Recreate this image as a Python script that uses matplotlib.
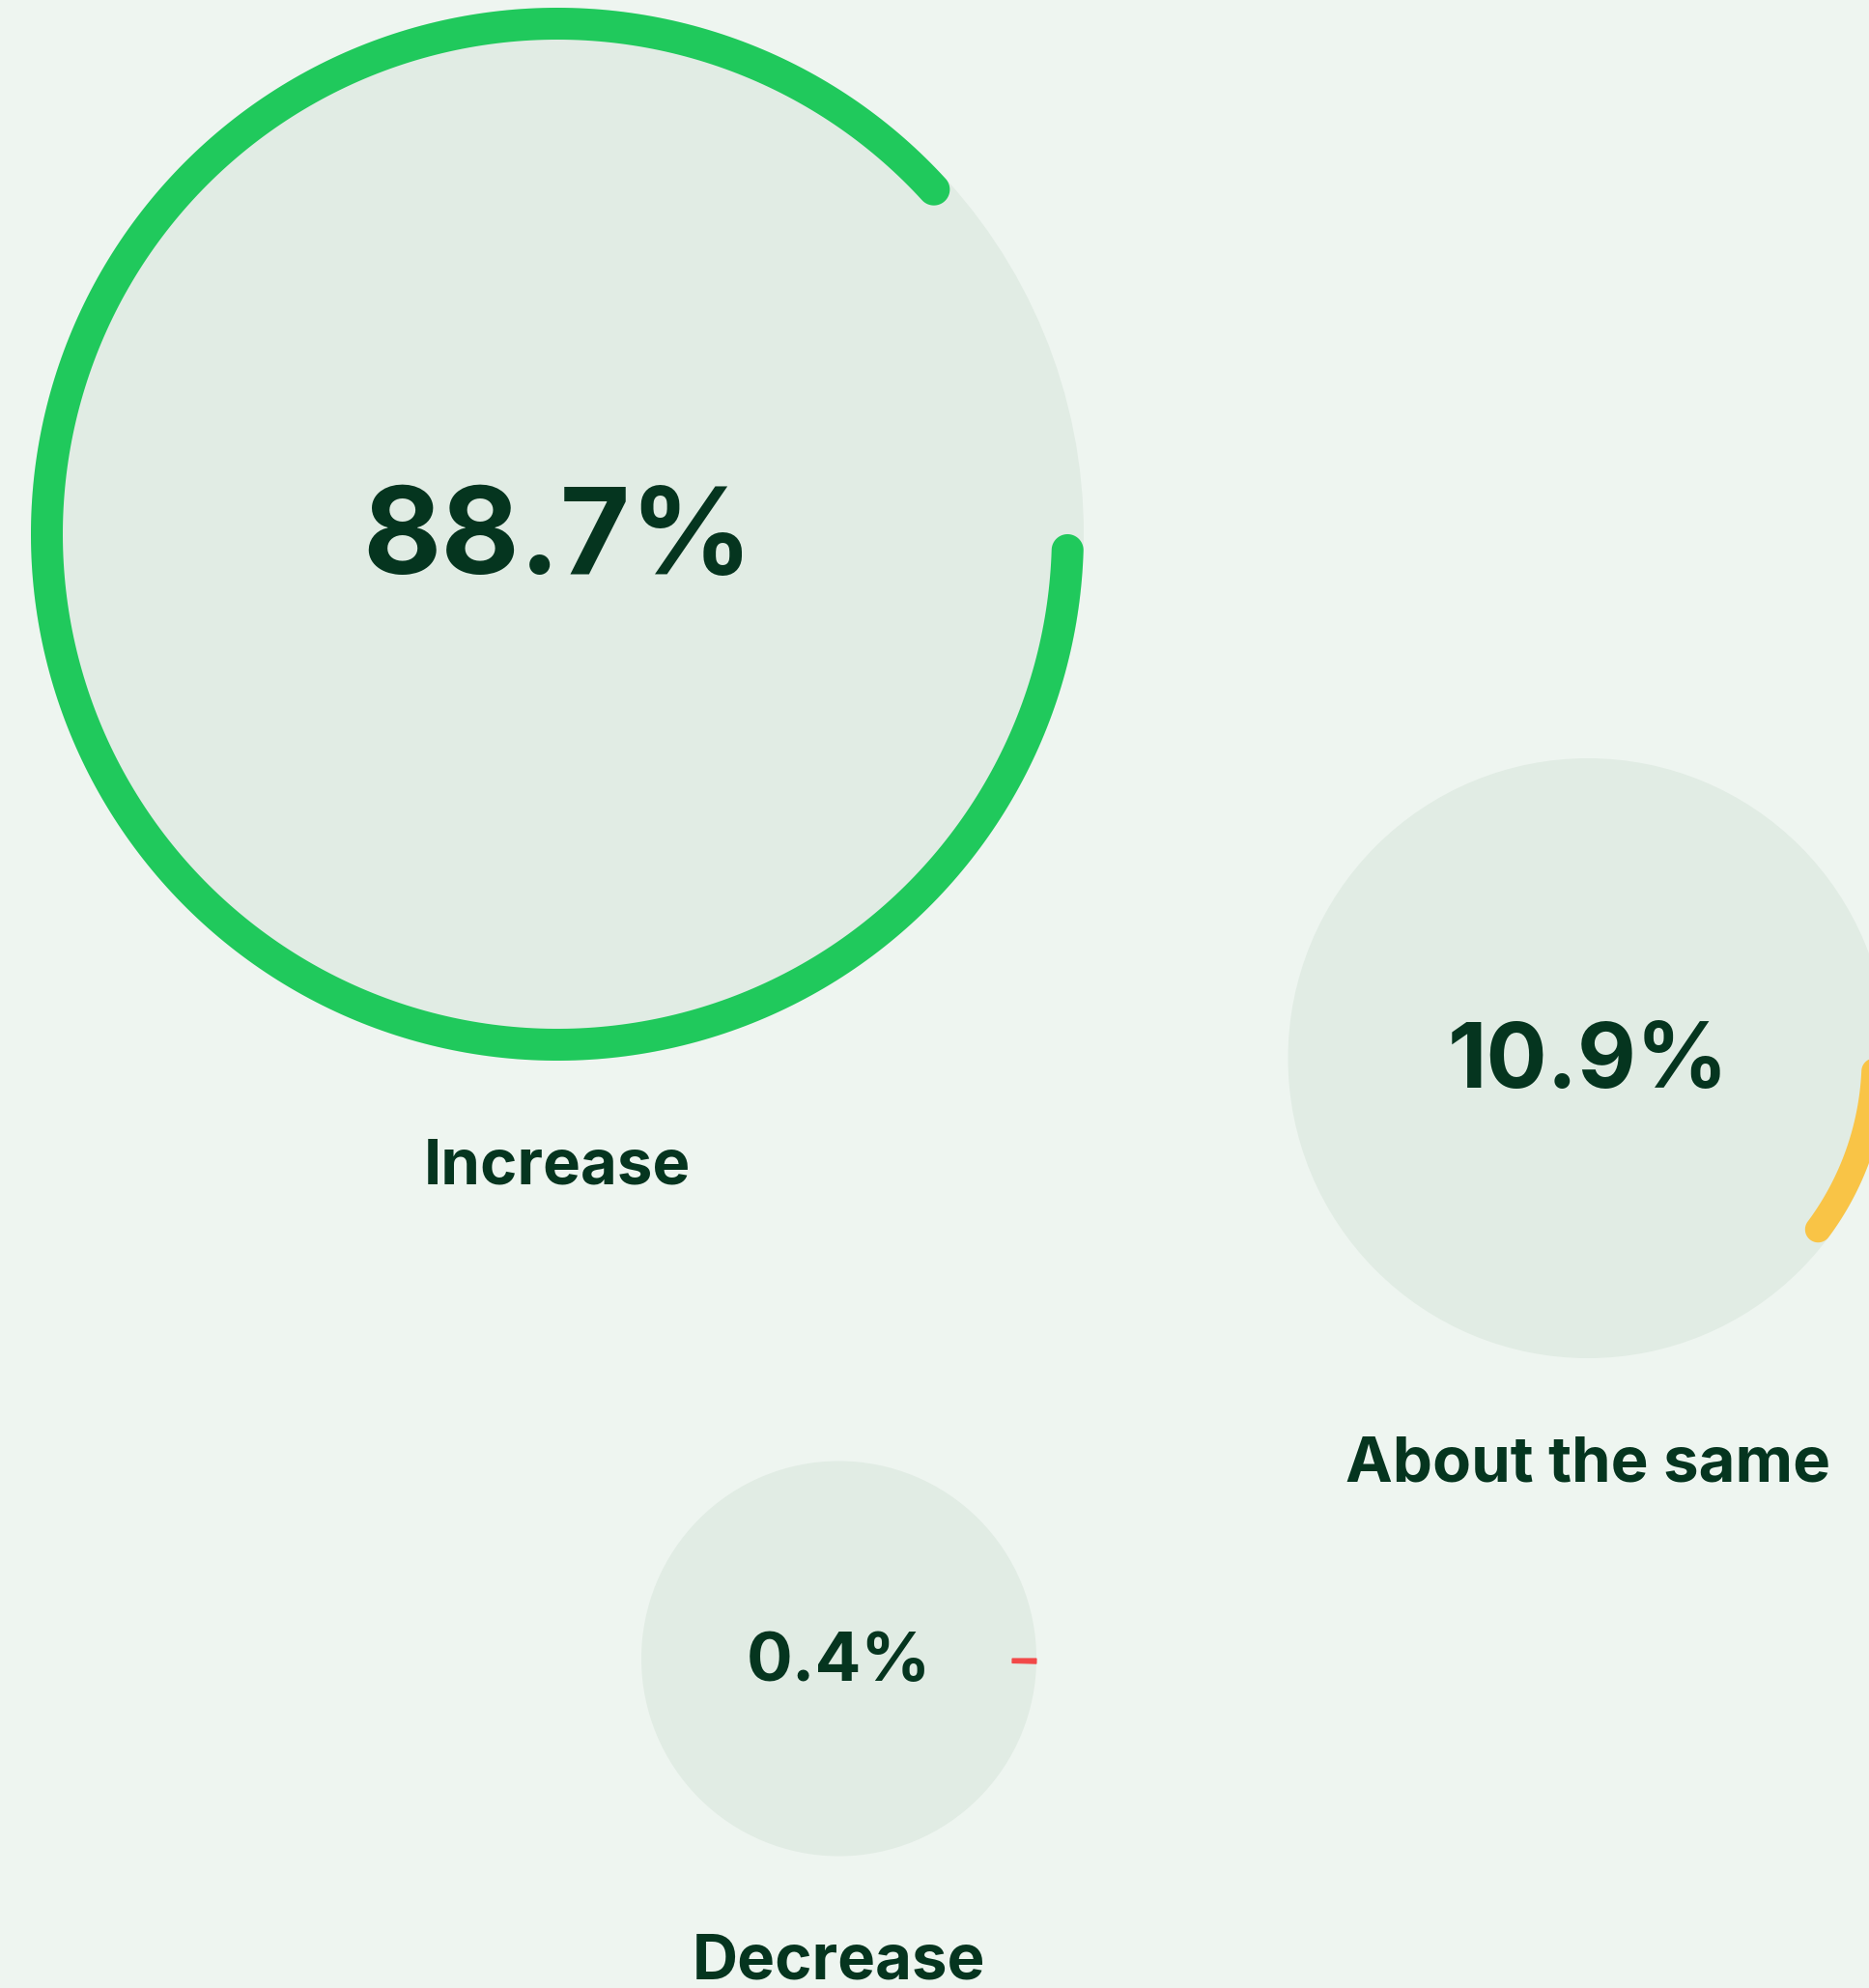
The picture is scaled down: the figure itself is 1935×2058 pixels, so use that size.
import numpy as np
import matplotlib
matplotlib.use("Agg")
import matplotlib.pyplot as plt
from matplotlib.patches import Circle, Wedge, Polygon

# data
categories = ["Increase", "About the same", "Decrease"]
shares = [88.7, 10.9, 0.4]

# layout (pixels, y down)
W, H = 1935, 2058
centers_x = [577, 1644, 868.5]
centers_y = [553, 1095.5, 1717]
radii = [545, 310.5, 204.5]
ring_widths = [33, 27, 25]
value_sizes = [90, 67.5, 51]
label_size = 47

BG = "#eef5f0"
DISK = "#e1ece4"
TEXT = "#05351f"
arc_colors = ["#20c95c", "#f9c446", "#f24848"]

plt.rcParams['font.family'] = ['Inter', 'DejaVu Sans']


def rounded_arc(cx, cy, r_out, w, sweep_deg, n=400):
    # arc from 3 o'clock going clockwise on screen, round ends
    h = w / 2.0
    r_mid = r_out - h
    sweep = np.radians(sweep_deg)
    ca = h / r_mid
    t0, t1 = ca, sweep - ca
    pts = []
    t = np.linspace(t0, t1, n)
    pts += list(zip(cx + (r_mid + h) * np.cos(t), cy + (r_mid + h) * np.sin(t)))
    ex, ey = cx + r_mid * np.cos(t1), cy + r_mid * np.sin(t1)
    a = np.linspace(t1, t1 + np.pi, 40)
    pts += list(zip(ex + h * np.cos(a), ey + h * np.sin(a)))
    t = np.linspace(t1, t0, n)
    pts += list(zip(cx + (r_mid - h) * np.cos(t), cy + (r_mid - h) * np.sin(t)))
    sx, sy = cx + r_mid * np.cos(t0), cy + r_mid * np.sin(t0)
    a = np.linspace(t0 + np.pi, t0 + 2 * np.pi, 40)
    pts += list(zip(sx + h * np.cos(a), sy + h * np.sin(a)))
    return pts


fig = plt.figure(figsize=(W / 100, H / 100), dpi=100)
fig.patch.set_facecolor(BG)
ax = fig.add_axes([0, 0, 1, 1])
ax.set_xlim(0, W)
ax.set_ylim(H, 0)
ax.axis("off")

for i, (cat, val) in enumerate(zip(categories, shares)):
    cx, cy, r, w = centers_x[i], centers_y[i], radii[i], ring_widths[i]
    ax.add_patch(Circle((cx, cy), r, facecolor=DISK, edgecolor="none", zorder=1))
    sweep = val / 100.0 * 360.0
    cap_ang = np.degrees((w / 2.0) / (r - w / 2.0))
    if sweep > 2 * cap_ang:
        ax.add_patch(Polygon(rounded_arc(cx, cy, r, w, sweep), closed=True,
                             facecolor=arc_colors[i], edgecolor="none", zorder=2))
    else:
        ax.add_patch(Wedge((cx, cy), r, 0, sweep, width=w,
                           facecolor=arc_colors[i], edgecolor=arc_colors[i],
                           linewidth=0.8, zorder=2))
    cap_px = value_sizes[i] * 100 / 72 * 0.727
    ax.text(cx, cy + 0.45 * cap_px, f"{val}%", ha="center", va="baseline",
            fontsize=value_sizes[i], fontweight="bold", color=TEXT, zorder=3)
    ax.text(cx, cy + r + 127, cat, ha="center", va="baseline",
            fontsize=label_size, fontweight="bold", color=TEXT, zorder=3)

fig.savefig("out.png", dpi=100, facecolor=BG)
